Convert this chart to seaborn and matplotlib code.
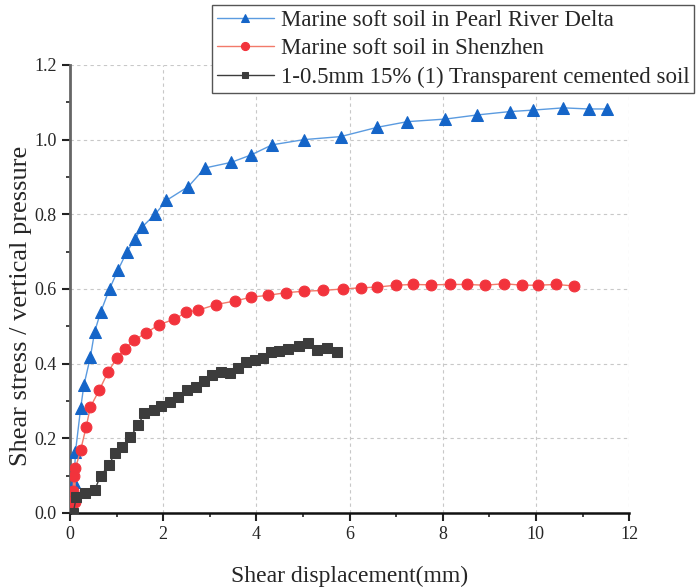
import numpy as np
import pandas as pd
import matplotlib
matplotlib.use("Agg")
import matplotlib.pyplot as plt
from matplotlib.ticker import MultipleLocator
import seaborn as sns

# ---- data ----
pearl_x = [0.0, 0.09, 0.12, 0.23, 0.30, 0.44, 0.53, 0.66, 0.85, 1.03, 1.22, 1.40, 1.55,
           1.83, 2.07, 2.54, 2.90, 3.46, 3.89, 4.34, 5.03, 5.81, 6.60, 7.24, 8.06,
           8.74, 9.44, 9.94, 10.59, 11.13, 11.52]
pearl_y = [0.0, 0.084, 0.164, 0.28, 0.342, 0.418, 0.485, 0.538, 0.60, 0.65, 0.699, 0.734,
           0.766, 0.80, 0.837, 0.874, 0.924, 0.939, 0.959, 0.986, 1.0, 1.008, 1.033,
           1.048, 1.055, 1.066, 1.075, 1.079, 1.085, 1.082, 1.082]

sz_x = [0.0, 0.05, 0.07, 0.08, 0.10, 0.12, 0.23, 0.35, 0.44, 0.63, 0.82, 1.0, 1.18, 1.38,
        1.63, 1.91, 2.24, 2.50, 2.75, 3.13, 3.55, 3.89, 4.25, 4.64, 5.03, 5.44, 5.85,
        6.24, 6.60, 6.99, 7.36, 7.75, 8.15, 8.52, 8.90, 9.32, 9.70, 10.05, 10.43, 10.82]
sz_y = [0.0, 0.03, 0.06, 0.10, 0.03, 0.12, 0.168, 0.231, 0.284, 0.329, 0.378, 0.414,
        0.44, 0.463, 0.482, 0.504, 0.519, 0.538, 0.543, 0.558, 0.568, 0.578, 0.583,
        0.59, 0.594, 0.596, 0.60, 0.603, 0.605, 0.61, 0.612, 0.611, 0.612, 0.612,
        0.61, 0.614, 0.61, 0.61, 0.612, 0.608]

tcs_x = [0.0, 0.07, 0.14, 0.33, 0.53, 0.66, 0.84, 0.96, 1.12, 1.30, 1.46, 1.60, 1.80,
         1.96, 2.14, 2.33, 2.52, 2.71, 2.87, 3.04, 3.24, 3.44, 3.60, 3.78, 3.97, 4.14,
         4.32, 4.49, 4.67, 4.92, 5.10, 5.31, 5.51, 5.73]
tcs_y = [0.0, 0.0, 0.044, 0.053, 0.061, 0.10, 0.128, 0.16, 0.177, 0.204, 0.235, 0.267,
         0.275, 0.286, 0.298, 0.311, 0.329, 0.338, 0.354, 0.369, 0.378, 0.374, 0.387,
         0.405, 0.411, 0.415, 0.431, 0.434, 0.438, 0.447, 0.455, 0.436, 0.443, 0.431]

labels = ["Marine soft soil in Pearl River Delta",
          "Marine soft soil in Shenzhen",
          "1-0.5mm 15% (1) Transparent cemented soil"]
x_ticks = [0, 2, 4, 6, 8, 10, 12]
y_ticks = [0.0, 0.2, 0.4, 0.6, 0.8, 1.0, 1.2]

sns.set_style("ticks")
plt.rcParams["font.family"] = ["Liberation Serif", "DejaVu Serif"]

fig = plt.figure(figsize=(6.99, 5.88), dpi=100)
ax = fig.add_axes([0.100, 0.1276, 0.800, 0.762])

series = [
    (pearl_x, pearl_y, "^", "#1565C8", "#5b9be0", 8.5),
    (sz_x, sz_y, "o", "#F2333C", "#f27a6a", 7.8),
    (tcs_x, tcs_y, "s", "#3c3c3c", "#3c3c3c", 6.5),
]
for (xs, ys, mk, mc, lc, ms), lab in zip(series, labels):
    df = pd.DataFrame({"x": xs, "y": ys})
    sns.lineplot(data=df, x="x", y="y", ax=ax, sort=False, estimator=None,
                 color=lc, linewidth=1.0, marker=mk, markersize=ms,
                 markerfacecolor=mc, markeredgecolor=mc, label=lab, zorder=3)

ax.set_xlim(0, 12)
ax.set_ylim(0, 1.2)
ax.set_xticks(x_ticks)
ax.set_yticks(y_ticks)
ax.set_yticklabels([f"{v:.1f}" for v in y_ticks])
ax.xaxis.set_minor_locator(MultipleLocator(1))
ax.yaxis.set_minor_locator(MultipleLocator(0.1))
ax.tick_params(axis="both", which="major", direction="out", length=6, width=1.5,
               labelsize=13, color="#222222")
ax.tick_params(axis="both", which="minor", direction="out", length=3, width=1.2,
               color="#222222")
for s in ["top", "right"]:
    ax.spines[s].set_visible(False)
ax.spines["left"].set_color("#666666")
ax.spines["left"].set_linewidth(2.0)
ax.spines["bottom"].set_color("#111111")
ax.spines["bottom"].set_linewidth(1.8)

ax.grid(True, which="major", color="#c8c8c8", linestyle=(0, (3, 3)), linewidth=0.8)
ax.set_axisbelow(True)

ax.set_xlabel("Shear displacement(mm)", fontsize=17, labelpad=16)
ax.set_ylabel("Shear stress / vertical pressure", fontsize=19)
ax.yaxis.set_label_coords(-0.068, 0.462)

leg = ax.legend(loc="upper right", bbox_to_anchor=(694 / 699, 1 - 5 / 588),
                bbox_transform=fig.transFigure, borderaxespad=0, fontsize=16.5,
                frameon=True, fancybox=False, edgecolor="#555555",
                handlelength=2.5, labelspacing=0.34, borderpad=0.2,
                handletextpad=0.3, markerscale=0.75)
leg.get_frame().set_linewidth(1.0)
leg.get_frame().set_alpha(1.0)

fig.savefig("out.png", dpi=100)
